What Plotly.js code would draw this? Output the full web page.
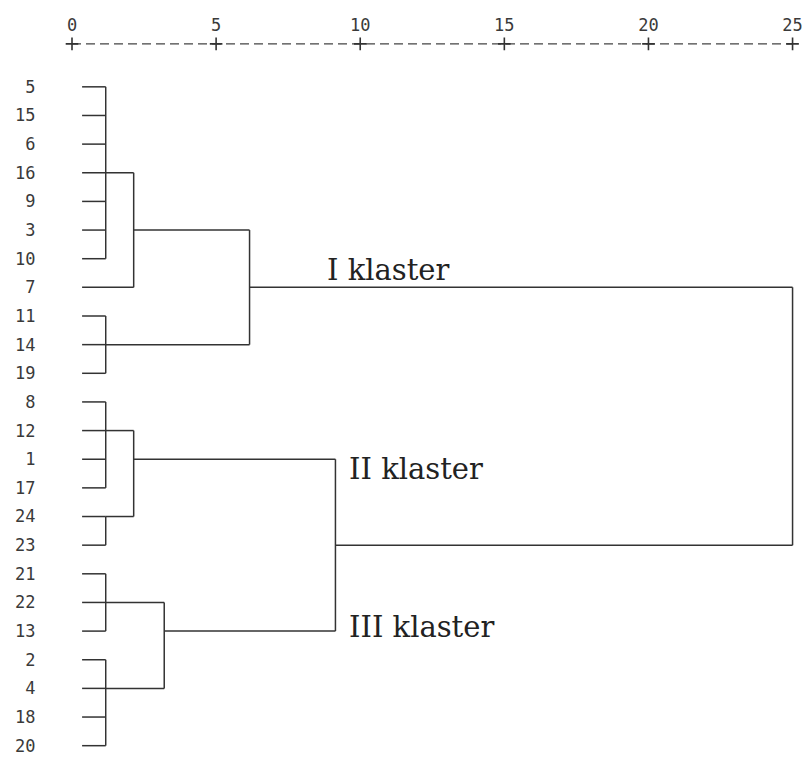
<!DOCTYPE html>
<html>
<head>
<meta charset="utf-8">
<script src="https://cdn.plot.ly/plotly-3.0.1.min.js"></script>
<style>html,body{margin:0;padding:0;background:#fff;}#chart{width:802px;height:758px;}</style>
</head>
<body>
<div id="chart"></div>
<script>
// ---- data ----
const leafLabels = ['5','15','6','16','9','3','10','7','11','14','19','8','12','1','17','24','23','21','22','13','2','4','18','20'];
// merges: children are leaf labels or earlier merges ("c<index>")
const mergeChildren = [
  ['5','15','6','16','9','3','10'],
  ['11','14','19'],
  ['c0','7'],
  ['c2','c1'],
  ['8','12','1','17'],
  ['24','23'],
  ['c4','c5'],
  ['21','22','13'],
  ['2','4','18','20'],
  ['c7','c8'],
  ['c6','c9'],
  ['c3','c10']
];
const mergeDistance = [1.17, 1.17, 2.14, 6.16, 1.17, 1.17, 2.14, 1.17, 1.17, 3.2, 9.14, 25];
const axisTicks = [0, 5, 10, 15, 20, 25];
const clusterNames = ['I klaster', 'II klaster', 'III klaster'];

// ---- build dendrogram segments ----
const leafStart = 0.35;
const pos = {};
leafLabels.forEach((l, i) => { pos[l] = {x: leafStart, y: i}; });
const xs = [], ys = [];
mergeChildren.forEach((ch, i) => {
  const d = mergeDistance[i];
  const cp = ch.map(c => pos[c]);
  const yv = cp.map(p => p.y);
  const y0 = Math.min(...yv), y1 = Math.max(...yv);
  cp.forEach(p => { xs.push(p.x, d, null); ys.push(p.y, p.y, null); });
  xs.push(d, d, null); ys.push(y0, y1, null);
  pos['c' + i] = {x: d, y: Math.floor((y0 + y1) / 2)};
});

const lineColor = '#333';
const traces = [
  {x: xs, y: ys, type: 'scatter', mode: 'lines', line: {color: lineColor, width: 1.5}, hoverinfo: 'skip', connectgaps: false},
  {x: [axisTicks[0], axisTicks[axisTicks.length - 1]], y: [-1.5, -1.5], type: 'scatter', mode: 'lines',
   line: {color: '#444', width: 1.4, dash: '9px,5px'}, hoverinfo: 'skip'},
  {x: axisTicks, y: axisTicks.map(() => -1.5), type: 'scatter', mode: 'markers', cliponaxis: false,
   marker: {symbol: 'cross-thin', size: 9, line: {color: '#333', width: 1.6}}, hoverinfo: 'skip'}
];

const annY = [6.4, 13.35, 18.85];
const annX = [8.78, 9.55, 9.55];
const annotations = clusterNames.map((t, i) => ({
  text: t, x: annX[i], y: annY[i], xref: 'x', yref: 'y', xanchor: 'left', yanchor: 'middle',
  showarrow: false, font: {family: 'DejaVu Serif', size: 29, color: '#222'}
}));

const tickFont = {family: 'DejaVu Sans Mono', size: 17, color: '#3a3a3a'};
const layout = {
  width: 802, height: 758,
  margin: {l: 72, r: 8, t: 41, b: 0},
  paper_bgcolor: '#fff', plot_bgcolor: '#fff',
  showlegend: false,
  xaxis: {range: [0, 25.05], side: 'top', tickvals: axisTicks, ticktext: axisTicks.map(String),
          showgrid: false, zeroline: false, showline: false, ticks: 'outside', ticklen: 2,
          tickcolor: 'rgba(0,0,0,0)', automargin: false, ticklabeloverflow: 'allow',
          tickfont: tickFont},
  yaxis: {range: [23.43, -1.6], tickvals: leafLabels.map((_, i) => i), ticktext: leafLabels,
          showgrid: false, zeroline: false, showline: false, ticks: 'outside', ticklen: 32,
          tickcolor: 'rgba(0,0,0,0)', automargin: false, ticklabeloverflow: 'allow',
          tickfont: tickFont},
  annotations: annotations
};

Plotly.newPlot('chart', traces, layout, {displayModeBar: false, staticPlot: true});
</script>
</body>
</html>
